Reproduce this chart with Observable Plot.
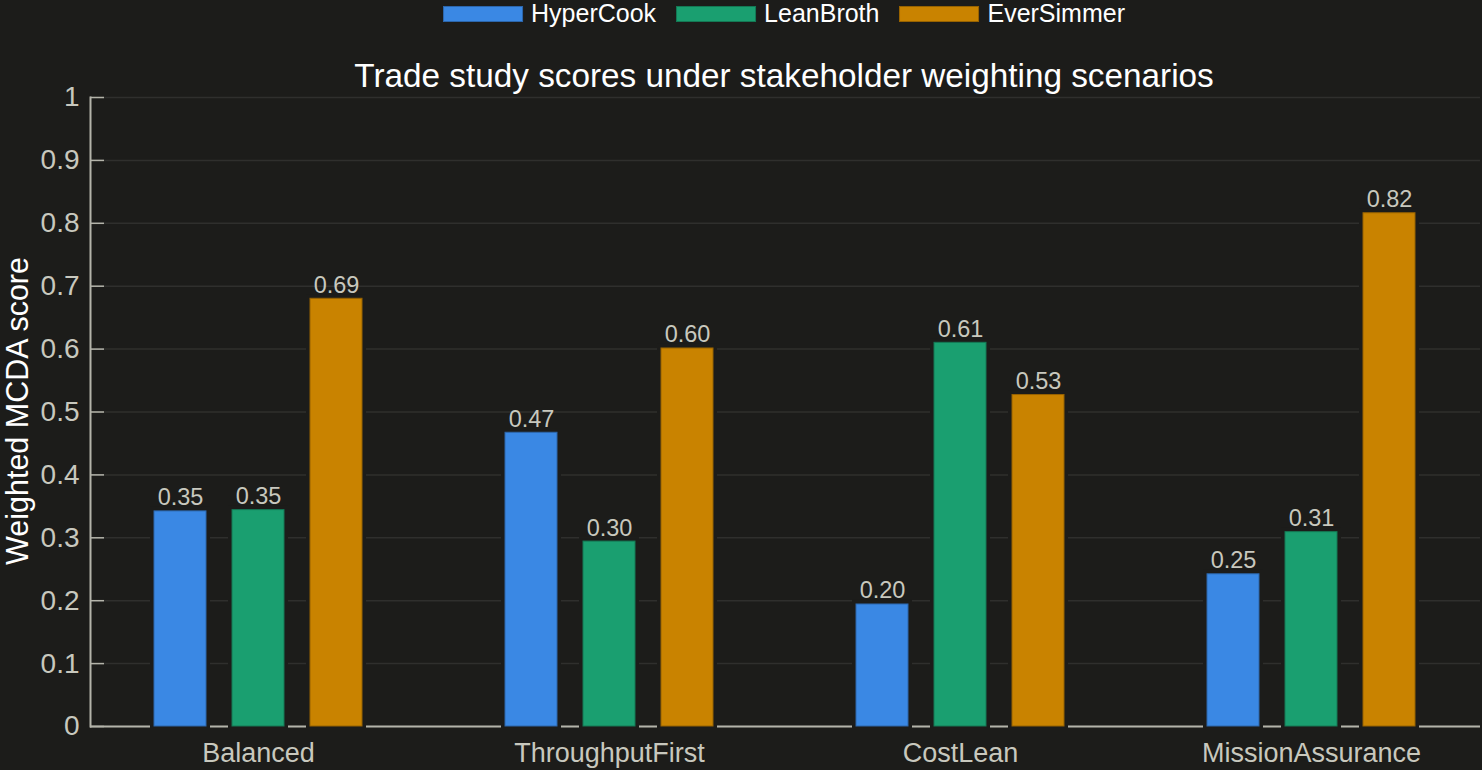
<!DOCTYPE html>
<html>
<head>
<meta charset="utf-8">
<script src="https://cdn.jsdelivr.net/npm/d3@7"></script>
<script src="https://cdn.jsdelivr.net/npm/@observablehq/plot@0.6"></script>
<style>
  html, body { margin: 0; padding: 0; background: #1c1c1a; }
  #wrap { position: relative; width: 1482px; height: 770px; overflow: hidden;
          font-family: "Liberation Sans", Arial, sans-serif; }
  #legend { position: absolute; top: 1px; left: 784px; transform: translateX(-50%);
            display: flex; align-items: center; white-space: nowrap; }
  .item { display: flex; align-items: center; margin-right: 20px; }
  .item:last-child { margin-right: 0; }
  .sw { width: 80px; height: 16px; box-sizing: border-box; margin-right: 8px; }
  .lt { font-size: 25px; line-height: 25px; color: #ffffff; }
  #title { position: absolute; top: 59px; left: 784px; transform: translateX(-50%);
           font-size: 33.3px; line-height: 33px; color: #ffffff; white-space: nowrap; }
  #ylabel { position: absolute; left: 17px; top: 411px; transform: translate(-50%, -50%) rotate(-90deg);
            font-size: 30.5px; line-height: 34px; color: #ffffff; white-space: nowrap; }
</style>
</head>
<body>
<div id="wrap">
  <div id="chart"></div>
  <div id="legend"></div>
  <div id="title">Trade study scores under stakeholder weighting scenarios</div>
  <div id="ylabel">Weighted MCDA score</div>
</div>
<script>
// ---- data ----
const scenarios = ["Balanced", "ThroughputFirst", "CostLean", "MissionAssurance"];
const seriesNames = ["HyperCook", "LeanBroth", "EverSimmer"];
const seriesColors = ["#3a88e4", "#1a9f70", "#c98300"];
const hyperCook = [0.342, 0.467, 0.194, 0.242];
const leanBroth = [0.344, 0.294, 0.610, 0.309];
const everSimmer = [0.680, 0.601, 0.527, 0.816];
const hyperCookLabels = ["0.35", "0.47", "0.20", "0.25"];
const leanBrothLabels = ["0.35", "0.30", "0.61", "0.31"];
const everSimmerLabels = ["0.69", "0.60", "0.53", "0.82"];
const yTicks = [0, 0.1, 0.2, 0.3, 0.4, 0.5, 0.6, 0.7, 0.8, 0.9, 1];
const yTickLabels = ["0", "0.1", "0.2", "0.3", "0.4", "0.5", "0.6", "0.7", "0.8", "0.9", "1"];

// ---- styling ----
const bg = "#1c1c1a";
const axisColor = "#b4b4aa";
const tickTextColor = "#c8c8be";
const gridColor = "#2f2f2d";
const seriesOffsets = [-78, 0, 78];

const seriesValues = [hyperCook, leanBroth, everSimmer];
const seriesLabels = [hyperCookLabels, leanBrothLabels, everSimmerLabels];
const tables = seriesNames.map((name, i) =>
  scenarios.map((s, j) => ({scenario: s, series: name, value: seriesValues[i][j], label: seriesLabels[i][j]}))
);

// legend
const legend = document.getElementById("legend");
seriesNames.forEach((name, i) => {
  const item = document.createElement("div");
  item.className = "item";
  const sw = document.createElement("div");
  sw.className = "sw";
  sw.style.background = seriesColors[i];
  sw.style.border = "1px solid " + d3.color(seriesColors[i]).darker(0.8);
  const t = document.createElement("span");
  t.className = "lt";
  t.textContent = name;
  item.appendChild(sw);
  item.appendChild(t);
  legend.appendChild(item);
});

const marks = [
  Plot.gridY(yTicks, {stroke: gridColor, strokeOpacity: 1, strokeWidth: 1.5}),
  Plot.ruleY([0], {stroke: axisColor, strokeWidth: 2}),
  Plot.frame({anchor: "left", stroke: axisColor, strokeWidth: 2}),
  Plot.axisY(yTicks, {
    tickSize: 0, tickPadding: 11,
    tickFormat: (d) => yTickLabels[yTicks.indexOf(d)],
    fontSize: 28, fill: tickTextColor, label: null
  }),
  Plot.axisY(yTicks, {tickSize: -14, text: null, stroke: axisColor, strokeWidth: 1.5, label: null})
];

tables.forEach((rows, i) => {
  marks.push(Plot.barY(rows, {x: "scenario", y: "value", dx: seriesOffsets[i], fill: bg, stroke: bg, strokeWidth: 8}));
});
tables.forEach((rows, i) => {
  marks.push(Plot.barY(rows, {
    x: "scenario", y: "value", dx: seriesOffsets[i],
    fill: seriesColors[i], stroke: d3.color(seriesColors[i]).darker(0.8).formatHex(), strokeWidth: 1
  }));
});
tables.forEach((rows, i) => {
  marks.push(Plot.text(rows, {
    x: "scenario", y: "value", text: "label", dx: seriesOffsets[i], dy: -6,
    lineAnchor: "bottom", fill: tickTextColor, fontSize: 23.5
  }));
});
marks.push(Plot.axisX({tickSize: 0, tickPadding: 16, fontSize: 27, fill: tickTextColor, label: null}));

const chart = Plot.plot({
  width: 1482,
  height: 770,
  marginLeft: 90,
  marginRight: 2,
  marginTop: 97,
  marginBottom: 44,
  style: {background: bg, color: tickTextColor, fontFamily: '"Liberation Sans", Arial, sans-serif', overflow: "visible"},
  x: {type: "band", domain: scenarios, paddingInner: 0.8518, paddingOuter: 0.4047, label: null},
  y: {domain: [0, 1], label: null},
  marks
});
document.getElementById("chart").appendChild(chart);
</script>
</body>
</html>
